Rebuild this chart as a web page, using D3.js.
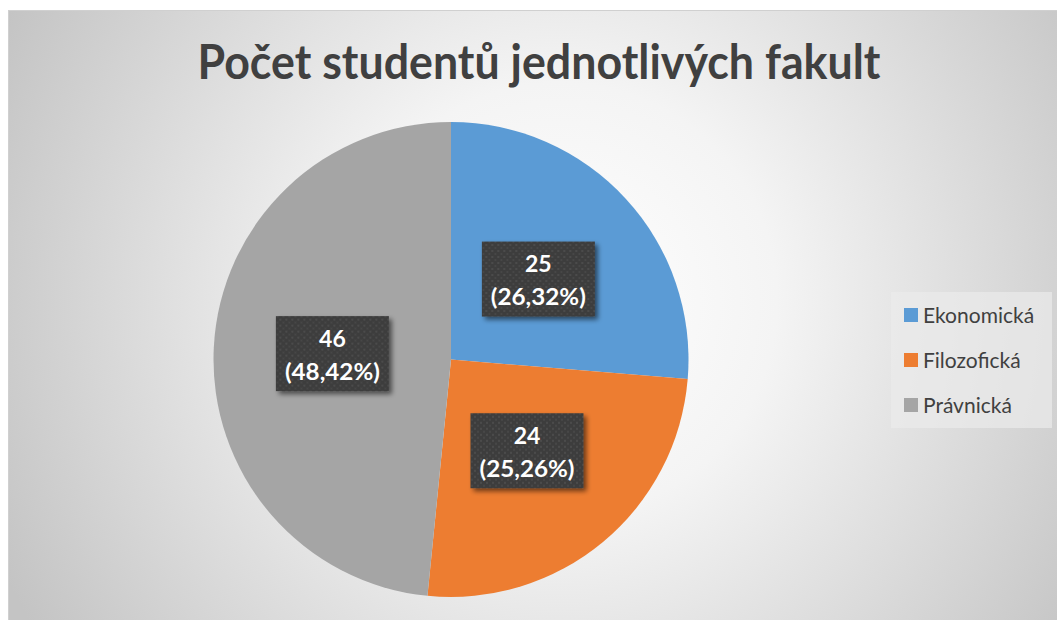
<!DOCTYPE html>
<html><head><meta charset="utf-8">
<script src="https://cdn.jsdelivr.net/npm/d3@7"></script>
<style>html,body{margin:0;padding:0;background:#fff;}svg{display:block;}</style>
</head><body>
<script>
const categories = ["Ekonomická", "Filozofická", "Právnická"];
const values = [25, 24, 46];
const percentLabels = ["26,32%", "25,26%", "48,42%"];
const colors = ["#5B9BD5", "#ED7D31", "#A5A5A5"];
const title = "Počet studentů jednotlivých fakult";

const W = 1057, H = 620;
const svg = d3.select("body").append("svg").attr("width", W).attr("height", H);
const defs = svg.append("defs");

const rg = defs.append("radialGradient").attr("id", "bg")
  .attr("gradientUnits", "userSpaceOnUse")
  .attr("cx", 560).attr("cy", 300).attr("r", 620);
rg.append("stop").attr("offset", "0").attr("stop-color", "#ffffff");
rg.append("stop").attr("offset", "0.35").attr("stop-color", "#f4f4f4");
rg.append("stop").attr("offset", "1").attr("stop-color", "#c4c4c4");

const pat = defs.append("pattern").attr("id", "dots").attr("patternUnits", "userSpaceOnUse")
  .attr("width", 6).attr("height", 6);
pat.append("rect").attr("width", 6).attr("height", 6).attr("fill", "#3d3d3d");
pat.append("rect").attr("x", 1).attr("y", 1).attr("width", 2).attr("height", 2).attr("fill", "#4c4c4c");
pat.append("rect").attr("x", 4).attr("y", 4).attr("width", 2).attr("height", 2).attr("fill", "#474747");

const sh = defs.append("filter").attr("id", "shadow").attr("x", "-20%").attr("y", "-20%").attr("width", "150%").attr("height", "150%");
sh.append("feGaussianBlur").attr("in", "SourceAlpha").attr("stdDeviation", 2.5);
sh.append("feOffset").attr("dx", 3).attr("dy", 3).attr("result", "ob");
sh.append("feComponentTransfer").append("feFuncA").attr("type", "linear").attr("slope", 0.55);
const fm = sh.append("feMerge");
fm.append("feMergeNode");
fm.append("feMergeNode").attr("in", "SourceGraphic");

svg.append("rect").attr("x", 8.5).attr("y", 10.5).attr("width", W).attr("height", H)
  .attr("fill", "url(#bg)").attr("stroke", "#d0d0d0");

svg.append("text").attr("x", 539).attr("y", 79).attr("text-anchor", "middle")
  .attr("font-family", "Lato, 'Open Sans', sans-serif").attr("font-weight", "bold")
  .attr("font-size", 47).attr("fill", "#404040")
  .attr("textLength", 683).attr("lengthAdjust", "spacingAndGlyphs")
  .text(title);

const cx = 451, cy = 359.5, R = 237.5;
const pie = d3.pie().sort(null).value(d => d)(values);
const arc = d3.arc().innerRadius(0).outerRadius(R);
const g = svg.append("g").attr("transform", `translate(${cx},${cy})`);
g.selectAll("path").data(pie).join("path")
  .attr("d", arc).attr("fill", (d, i) => colors[i]).attr("stroke", "none");

const bw = 113, bh = 75;
const lab = g.selectAll("g.lab").data(pie).join("g").attr("class", "lab")
  .attr("transform", d => { const c = arc.centroid(d); return `translate(${c[0]},${c[1]})`; });
lab.append("rect").attr("x", -bw/2).attr("y", -bh/2).attr("width", bw).attr("height", bh)
  .attr("fill", "url(#dots)").attr("filter", "url(#shadow)");
lab.append("text").attr("text-anchor", "middle").attr("y", -7)
  .attr("font-family", "Lato, 'Open Sans', sans-serif").attr("font-weight", "bold")
  .attr("font-size", 23).attr("fill", "#ffffff")
  .text((d, i) => values[i]);
lab.append("text").attr("text-anchor", "middle").attr("y", 26)
  .attr("font-family", "Lato, 'Open Sans', sans-serif").attr("font-weight", "bold")
  .attr("font-size", 23).attr("fill", "#ffffff")
  .attr("textLength", 95).attr("lengthAdjust", "spacingAndGlyphs")
  .text((d, i) => `(${percentLabels[i]})`);

const leg = svg.append("g");
leg.append("rect").attr("x", 891).attr("y", 292).attr("width", 161).attr("height", 136)
  .attr("fill", "#ebebeb").attr("fill-opacity", 0.7);
const ys = d3.scalePoint().domain(categories).range([315, 405]);
const li = leg.selectAll("g.li").data(categories).join("g").attr("class", "li")
  .attr("transform", d => `translate(904,${ys(d)})`);
li.append("rect").attr("x", 0).attr("y", -7).attr("width", 14).attr("height", 14)
  .attr("fill", (d, i) => colors[i]);
li.append("text").attr("x", 19).attr("y", 7.5)
  .attr("font-family", "Lato, 'Open Sans', sans-serif").attr("font-size", 21).attr("fill", "#404040")
  .text(d => d);
</script>
</body></html>
